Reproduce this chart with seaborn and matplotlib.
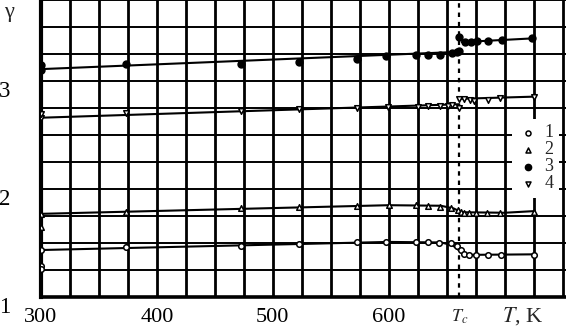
import numpy as np
import pandas as pd
import seaborn as sns
import matplotlib
matplotlib.use("Agg")
import matplotlib.pyplot as plt

sns.set_theme(style="white")
plt.rcParams['font.family'] = ['Liberation Serif', 'DejaVu Serif']
plt.rcParams['mathtext.fontset'] = 'stix'

# ---- data ----
Tc = 661

# 1: open circles
T1 = [300, 300, 300, 373, 473, 523, 573, 598, 624, 634, 643, 654, 659, 662, 665, 669, 675, 686, 697, 725]
g1 = [1.435, 1.29, 1.26, 1.463, 1.47, 1.49, 1.51, 1.51, 1.51, 1.51, 1.50, 1.50, 1.47, 1.435, 1.40, 1.39, 1.39, 1.39, 1.39, 1.39]
# 2: open up-triangles
T2 = [300, 300, 373, 473, 523, 573, 600, 624, 634, 644, 654, 660, 662, 665, 669, 675, 685, 696, 725]
g2 = [1.77, 1.65, 1.79, 1.82, 1.83, 1.84, 1.85, 1.85, 1.845, 1.83, 1.82, 1.805, 1.79, 1.775, 1.775, 1.78, 1.775, 1.775, 1.79]
# 3: filled circles
T3 = [300, 300, 373, 473, 523, 573, 598, 624, 634, 644, 655, 659, 661, 661, 666, 671, 676, 686, 698, 724]
g3 = [3.10, 3.15, 3.16, 3.16, 3.18, 3.20, 3.23, 3.24, 3.24, 3.24, 3.26, 3.27, 3.28, 3.41, 3.36, 3.36, 3.37, 3.37, 3.38, 3.40]
# 4: open down-triangles
T4 = [300, 300, 373, 473, 523, 573, 599, 625, 634, 644, 651, 655, 661, 661, 665, 670, 674, 686, 696, 725]
g4 = [2.66, 2.69, 2.70, 2.72, 2.74, 2.75, 2.76, 2.76, 2.77, 2.77, 2.77, 2.78, 2.75, 2.835, 2.835, 2.825, 2.815, 2.825, 2.84, 2.85]

# hand-drawn fit curves (series, segment)
fit1_T = [300, 600, 645, 655, 662, 668, 725]
fit1_g = [1.435, 1.51, 1.505, 1.48, 1.42, 1.39, 1.395]
fit2_T = [300, 600, 645, 656, 663, 700, 725]
fit2_g = [1.77, 1.85, 1.845, 1.82, 1.785, 1.78, 1.795]
fit3a_T = [300, 661]
fit3a_g = [3.11, 3.27]
fit3b_T = [663, 725]
fit3b_g = [3.36, 3.395]
fit4a_T = [300, 661]
fit4a_g = [2.66, 2.785]
fit4b_T = [661, 725]
fit4b_g = [2.835, 2.855]

labels = ['1', '2', '3', '4']
x_labels = {300: '300', 400: '400', 500: '500', 600: '600'}

fits = pd.concat([
    pd.DataFrame({'seg': 'a1', 'T': fit1_T, 'g': fit1_g}),
    pd.DataFrame({'seg': 'a2', 'T': fit2_T, 'g': fit2_g}),
    pd.DataFrame({'seg': 'a3', 'T': fit3a_T, 'g': fit3a_g}),
    pd.DataFrame({'seg': 'b3', 'T': fit3b_T, 'g': fit3b_g}),
    pd.DataFrame({'seg': 'a4', 'T': fit4a_T, 'g': fit4a_g}),
    pd.DataFrame({'seg': 'b4', 'T': fit4b_T, 'g': fit4b_g}),
])

fig = plt.figure(figsize=(5.66, 3.28), dpi=100)
ax = fig.add_axes([41 / 566, 31 / 328, 525 / 566, 297 / 328])

sns.lineplot(data=fits, x='T', y='g', units='seg', estimator=None,
             color='black', lw=1.5, sort=False, ax=ax, zorder=3)

styles = [
    (T1, g1, 'o', 'white', 16),
    (T2, g2, '^', 'white', 16),
    (T3, g3, 'o', 'black', 24),
    (T4, g4, 'v', 'white', 16),
]
for (T, g, m, fc, s), lab in zip(styles, labels):
    sns.scatterplot(x=T, y=g, marker=m, s=s, color=fc, edgecolor='black',
                    linewidth=1.1, ax=ax, zorder=4, label=lab)

ax.axvline(Tc, color='black', lw=1.6, ls=(0, (2, 2.2)), zorder=3)

ax.set_xlim(300, 753)
ax.set_ylim(1, 3.75)
xt = np.arange(300, 751, 25)
ax.set_xticks(xt)
ax.set_xticklabels([x_labels.get(int(v), '') for v in xt])
yt = np.arange(1, 3.76, 0.25)
ax.set_yticks(yt)
ax.set_yticklabels([str(int(v)) if float(v).is_integer() else '' for v in yt],
                   va='top')
ax.tick_params(axis='x', length=0, pad=8, labelsize=16, colors='black')
ax.tick_params(axis='y', length=0, pad=22, labelsize=16.5, colors='black')
ax.xaxis.grid(True, color='black', lw=2.0)
ax.yaxis.grid(True, color='black', lw=1.4)
ax.set_axisbelow(True)
ax.set_xlabel('')
ax.set_ylabel('')

for side in ['top', 'right']:
    ax.spines[side].set_visible(False)
ax.spines['left'].set_linewidth(3)
ax.spines['bottom'].set_linewidth(2.6)
ax.spines['left'].set_color('black')
ax.spines['bottom'].set_color('black')

ax.text(Tc, -0.065, '$T_c$', transform=ax.get_xaxis_transform(),
        ha='center', va='center', fontsize=13, clip_on=False)
ax.text(716, -0.065, '$T$, K', transform=ax.get_xaxis_transform(),
        ha='center', va='center', fontsize=16, clip_on=False)
fig.text(9 / 566, 1 - 12 / 328, 'γ', ha='center', va='center', fontsize=16)

leg = ax.legend(loc='upper left', bbox_to_anchor=(503 / 566, 1 - 110 / 328),
                bbox_transform=fig.transFigure, fontsize=13, frameon=True,
                facecolor='white', edgecolor='none', framealpha=1,
                handletextpad=0.3, labelspacing=0.0, borderpad=0.3,
                handlelength=1.2, markerscale=0.9)
leg.get_frame().set_boxstyle('square', pad=0)

fig.savefig('out.png', dpi=100)
